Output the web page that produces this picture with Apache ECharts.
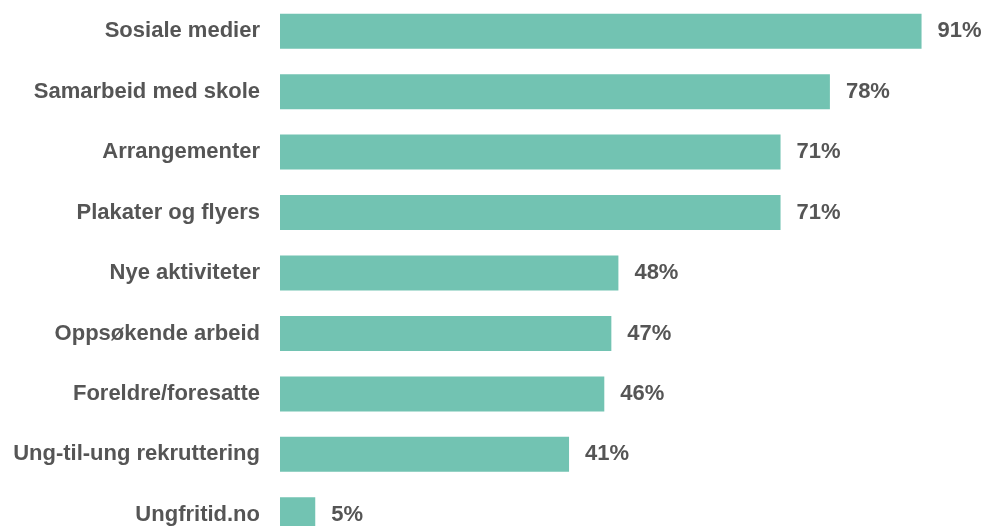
<!DOCTYPE html>
<html>
<head>
<meta charset="utf-8">
<script src="https://cdn.jsdelivr.net/npm/echarts@6/dist/echarts.min.js"></script>
<style>
  html, body { margin: 0; padding: 0; background: #fff; }
  #chart { width: 985px; height: 526px; }
</style>
</head>
<body>
<div id="chart"></div>
<script>
// kanaler for rekruttering, andel i prosent
const categories = [
  "Sosiale medier",
  "Samarbeid med skole",
  "Arrangementer",
  "Plakater og flyers",
  "Nye aktiviteter",
  "Oppsøkende arbeid",
  "Foreldre/foresatte",
  "Ung-til-ung rekruttering",
  "Ungfritid.no"
];
const values = [91, 78, 71, 71, 48, 47, 46, 41, 5];

const textColor = "#555555";
const barColor = "#72c3b2";

let myChart = echarts.init(document.getElementById("chart"));
myChart.setOption({
  animation: false,
  grid: {
    left: 280,
    right: 0,
    top: 1,
    height: 544,
    outerBoundsMode: "none"
  },
  xAxis: {
    type: "value",
    min: 0,
    max: 100,
    show: false
  },
  yAxis: {
    type: "category",
    data: categories,
    inverse: true,
    axisLine: { show: false },
    axisTick: { show: false },
    axisLabel: {
      margin: 20,
      color: textColor,
      fontFamily: "Liberation Sans, Arial, sans-serif",
      fontWeight: "bold",
      fontSize: 22,
      padding: [3, 0, 0, 0]
    }
  },
  series: [
    {
      type: "bar",
      data: values,
      barWidth: 35,
      itemStyle: { color: barColor },
      label: {
        show: true,
        position: "right",
        distance: 16,
        formatter: "{c}%",
        color: textColor,
        fontFamily: "Liberation Sans, Arial, sans-serif",
        fontWeight: "bold",
        fontSize: 22,
        padding: [3, 0, 0, 0]
      }
    }
  ]
});
</script>
</body>
</html>
